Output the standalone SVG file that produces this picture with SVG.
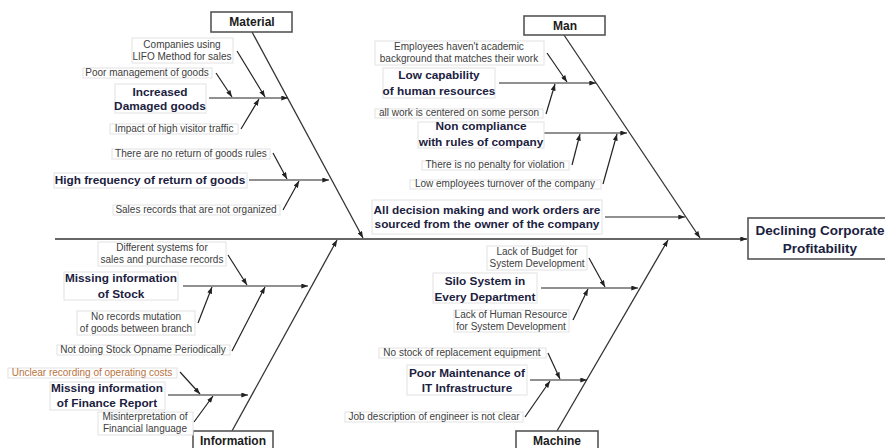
<svg xmlns="http://www.w3.org/2000/svg" width="885" height="448" viewBox="0 0 885 448">
<style>
.bg{fill:#fff}
.lb{fill:#fff;stroke:#e2e2e2;stroke-width:1}
.cat{fill:#fff;stroke:#555;stroke-width:1.6}
.s{font-family:"Liberation Sans",Arial,sans-serif;font-size:10px;fill:#404040;text-anchor:middle}
.o{fill:#b8743f}
.b{font-family:"Liberation Sans",Arial,sans-serif;font-size:11.8px;font-weight:bold;fill:#1b2140;text-anchor:middle}
.c{font-family:"Liberation Sans",Arial,sans-serif;font-size:12px;font-weight:bold;fill:#1b1b1b;text-anchor:middle}
.hd{font-family:"Liberation Sans",Arial,sans-serif;font-size:13.5px;font-weight:bold;fill:#1b2140;text-anchor:middle}
.ln{stroke:#222;stroke-width:1.2;fill:none;marker-end:url(#ah)}
.mb{stroke:#333;stroke-width:1.3;fill:none;marker-end:url(#ah)}
</style>
<defs>
<marker id="ah" viewBox="0 0 8 6" refX="8" refY="3" markerWidth="7" markerHeight="5" markerUnits="userSpaceOnUse" orient="auto">
<path d="M0,0 L8,3 L0,6 Z" fill="#222"/>
</marker>
</defs>
<rect class="bg" x="0" y="0" width="885" height="448"/>

<g id="connectors">
<!-- spine -->
<line class="mb" x1="55" y1="239" x2="747" y2="239"/>
<!-- main bones -->
<line class="mb" x1="252" y1="32" x2="363" y2="238"/>
<line class="mb" x1="564" y1="35" x2="700" y2="238"/>
<line class="mb" x1="232" y1="431" x2="337" y2="240"/>
<line class="mb" x1="557" y1="431" x2="668" y2="240"/>
<!-- Material sub-bones -->
<line class="ln" x1="209" y1="98" x2="288" y2="98"/>
<line class="ln" x1="237" y1="51" x2="265" y2="97"/>
<line class="ln" x1="216" y1="73" x2="232" y2="97"/>
<line class="ln" x1="241" y1="129" x2="259" y2="99"/>
<line class="ln" x1="249" y1="180" x2="329" y2="180"/>
<line class="ln" x1="273" y1="153" x2="287" y2="179"/>
<line class="ln" x1="283" y1="210" x2="299" y2="181"/>
<!-- Man sub-bones -->
<line class="ln" x1="499" y1="83" x2="596" y2="83"/>
<line class="ln" x1="547" y1="53" x2="567" y2="82"/>
<line class="ln" x1="546" y1="114" x2="555" y2="84"/>
<line class="ln" x1="542" y1="133" x2="627" y2="133"/>
<line class="ln" x1="572" y1="165" x2="580" y2="134"/>
<line class="ln" x1="603" y1="184" x2="617" y2="134"/>
<line class="ln" x1="605" y1="217" x2="685" y2="217"/>
<!-- Information sub-bones -->
<line class="ln" x1="183" y1="286" x2="308" y2="286"/>
<line class="ln" x1="228" y1="255" x2="247" y2="285"/>
<line class="ln" x1="198" y1="323" x2="212" y2="287"/>
<line class="ln" x1="232" y1="351" x2="265" y2="287"/>
<line class="ln" x1="168" y1="395" x2="248" y2="395"/>
<line class="ln" x1="180" y1="372" x2="200" y2="394"/>
<line class="ln" x1="194" y1="422" x2="213" y2="396"/>
<!-- Machine sub-bones -->
<line class="ln" x1="541" y1="288" x2="638" y2="288"/>
<line class="ln" x1="589" y1="258" x2="605" y2="287"/>
<line class="ln" x1="573" y1="320" x2="588" y2="289"/>
<line class="ln" x1="530" y1="380" x2="587" y2="380"/>
<line class="ln" x1="548" y1="353" x2="560" y2="379"/>
<line class="ln" x1="525" y1="417" x2="550" y2="381"/>
</g>

<!-- head -->
<g id="head">
<rect class="cat" x="748" y="218" width="145" height="41"/>
<text class="hd" x="820" y="235">Declining Corporate</text>
<text class="hd" x="820" y="253">Profitability</text>
</g>

<!-- categories -->
<g id="cat-material"><rect class="cat" x="211" y="12" width="81" height="20"/><text class="c" x="252" y="26">Material</text></g>
<g id="cat-man"><rect class="cat" x="524" y="16" width="81" height="19"/><text class="c" x="565" y="30">Man</text></g>
<g id="cat-information"><rect class="cat" x="193" y="431" width="80" height="22"/><text class="c" x="233" y="445">Information</text></g>
<g id="cat-machine"><rect class="cat" x="516" y="431" width="82" height="22"/><text class="c" x="557" y="445">Machine</text></g>

<!-- Material -->
<g id="m-lifo"><rect class="lb" x="132" y="38" width="101" height="25"/><text class="s" x="182" y="48">Companies using</text><text class="s" x="182" y="60">LIFO Method for sales</text></g>
<g id="m-poor"><rect class="lb" x="83" y="68" width="129" height="10"/><text class="s" x="147" y="76">Poor management of goods</text></g>
<g id="m-damaged"><rect class="lb" x="115" y="84" width="91" height="29"/><text class="b" x="160" y="96">Increased</text><text class="b" x="160" y="110">Damaged goods</text></g>
<g id="m-impact"><rect class="lb" x="110" y="124" width="128" height="10"/><text class="s" x="174" y="132">Impact of high visitor traffic</text></g>
<g id="m-norules"><rect class="lb" x="112" y="149" width="158" height="10"/><text class="s" x="191" y="157">There are no return of goods rules</text></g>
<g id="m-return"><rect class="lb" x="54" y="173" width="193" height="15"/><text class="b" x="150" y="184">High frequency of return of goods</text></g>
<g id="m-sales"><rect class="lb" x="113" y="205" width="167" height="10"/><text class="s" x="196" y="213">Sales records that are not organized</text></g>

<!-- Man -->
<g id="h-academic"><rect class="lb" x="375" y="41" width="169" height="24"/><text class="s" x="459" y="50">Employees haven't academic</text><text class="s" x="459" y="62">background that matches their work</text></g>
<g id="h-lowcap"><rect class="lb" x="383" y="68" width="112" height="30"/><text class="b" x="439" y="79">Low capability</text><text class="b" x="439" y="95">of human resources</text></g>
<g id="h-allwork"><rect class="lb" x="375" y="109" width="168" height="9"/><text class="s" x="459" y="116">all work is centered on some person</text></g>
<g id="h-noncomp"><rect class="lb" x="418" y="122" width="126" height="26"/><text class="b" x="481" y="130">Non compliance</text><text class="b" x="481" y="146">with rules of company</text></g>
<g id="h-penalty"><rect class="lb" x="422" y="161" width="147" height="9"/><text class="s" x="495" y="168">There is no penalty for violation</text></g>
<g id="h-turnover"><rect class="lb" x="410" y="180" width="191" height="9"/><text class="s" x="505" y="187">Low employees turnover of the company</text></g>
<g id="h-decision"><rect class="lb" x="372" y="200" width="230" height="34"/><text class="b" x="487" y="214">All decision making and work orders are</text><text class="b" x="487" y="228">sourced from the owner of the company</text></g>

<!-- Information -->
<g id="i-systems"><rect class="lb" x="98" y="242" width="128" height="24"/><text class="s" x="162" y="251">Different systems for</text><text class="s" x="162" y="263">sales and purchase records</text></g>
<g id="i-stock"><rect class="lb" x="64" y="272" width="114" height="28"/><text class="b" x="121" y="282">Missing information</text><text class="b" x="121" y="298">of Stock</text></g>
<g id="i-mutation"><rect class="lb" x="77" y="311" width="118" height="24"/><text class="s" x="136" y="320">No records mutation</text><text class="s" x="136" y="332">of goods between branch</text></g>
<g id="i-opname"><rect class="lb" x="57" y="345" width="173" height="10"/><text class="s" x="143" y="353">Not doing Stock Opname Periodically</text></g>
<g id="i-unclear"><rect class="lb" x="8" y="368" width="169" height="10"/><text class="s o" x="92" y="376">Unclear recording of operating costs</text></g>
<g id="i-finance"><rect class="lb" x="50" y="382" width="115" height="28"/><text class="b" x="107" y="392">Missing information</text><text class="b" x="107" y="407">of Finance Report</text></g>
<g id="i-misinterp"><rect class="lb" x="98" y="412" width="95" height="23"/><text class="s" x="145" y="420">Misinterpretation of</text><text class="s" x="145" y="432">Financial language</text></g>

<!-- Machine -->
<g id="c-budget"><rect class="lb" x="487" y="246" width="100" height="24"/><text class="s" x="537" y="255">Lack of Budget for</text><text class="s" x="537" y="267">System Development</text></g>
<g id="c-silo"><rect class="lb" x="433" y="273" width="104" height="30"/><text class="b" x="485" y="285">Silo System in</text><text class="b" x="485" y="301">Every Department</text></g>
<g id="c-hr"><rect class="lb" x="454" y="310" width="115" height="22"/><text class="s" x="511" y="318">Lack of Human Resource</text><text class="s" x="511" y="330">for System Development</text></g>
<g id="c-nostock"><rect class="lb" x="379" y="348" width="167" height="10"/><text class="s" x="462" y="356">No stock of replacement equipment</text></g>
<g id="c-maint"><rect class="lb" x="407" y="365" width="120" height="30"/><text class="b" x="467" y="377">Poor Maintenance of</text><text class="b" x="467" y="392">IT Infrastructure</text></g>
<g id="c-job"><rect class="lb" x="345" y="412" width="178" height="10"/><text class="s" x="434" y="420">Job description of engineer is not clear</text></g>
</svg>
